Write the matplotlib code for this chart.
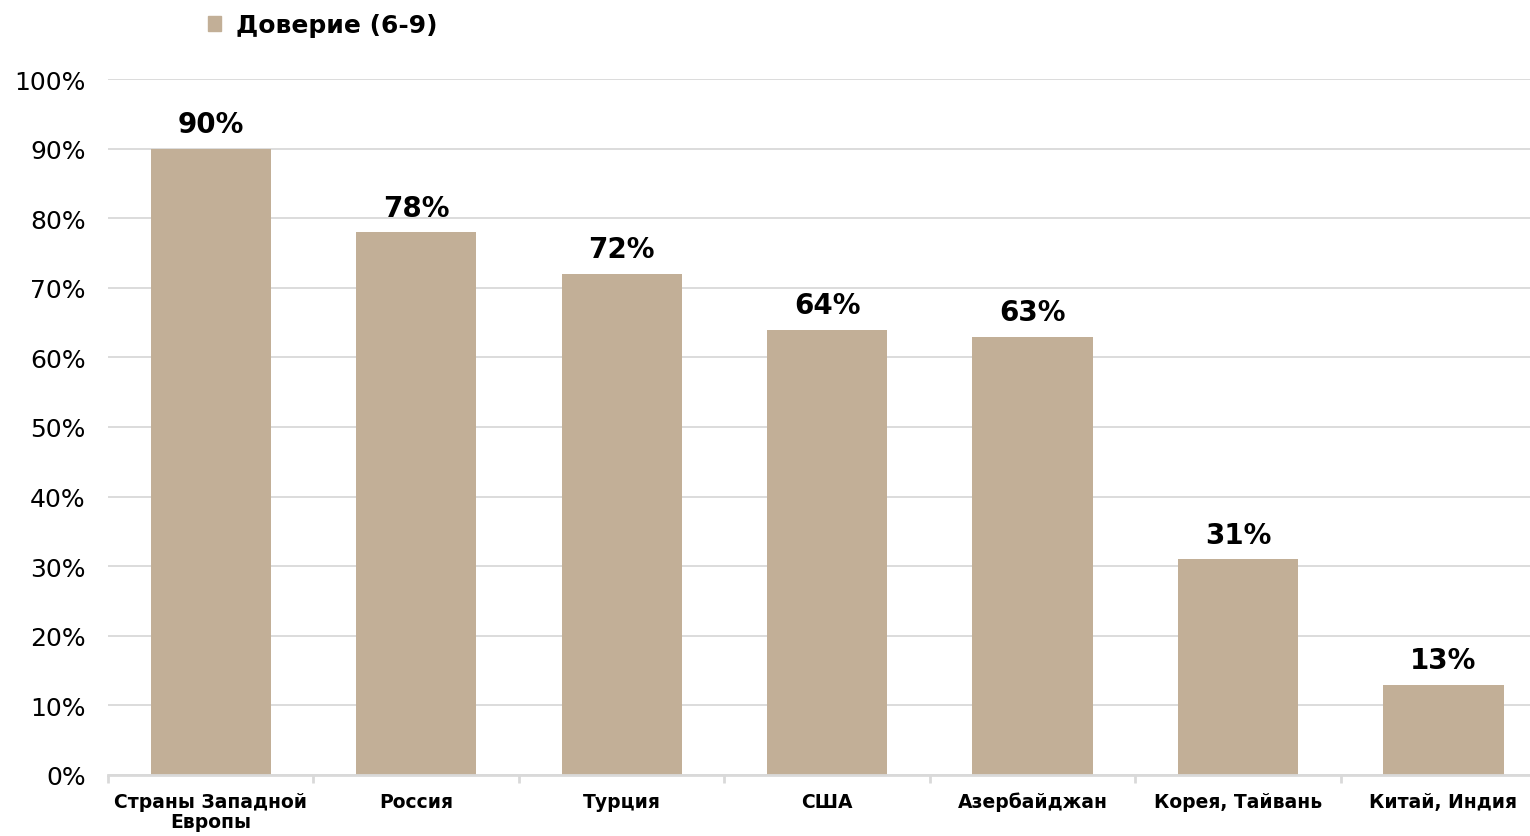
import numpy as np
from matplotlib import pyplot as plt
from matplotlib.ticker import PercentFormatter
from matplotlib.patches import Patch

countries = ["Страны Западной\nЕвропы", "Россия", "Турция", "США",
             "Азербайджан", "Корея, Тайвань", "Китай, Индия"]
trust = [90, 78, 72, 64, 63, 31, 13]
series_name = "Доверие (6-9)"

barColor = "#C2AF97"
gridColor = "#D9D9D9"

plt.rcParams["font.family"] = ["DejaVu Sans"]

fig = plt.figure(figsize=(15.3, 8.37), dpi=100)
# the plot area runs a little past the right edge of the figure
ax = fig.add_axes([0.0706, 0.0729, 0.940, 0.8315])

x = np.arange(len(countries))
bars = ax.bar(x, trust, width=0.585, color=barColor, zorder=2)

# value labels above each bar
for xi, v in zip(x, trust):
    ax.text(xi, v + 1.5, f"{v}%", ha="center", va="bottom",
            fontsize=20, fontweight="bold", color="black")

ax.set_xlim(-0.5, len(countries) - 0.5)
ax.set_ylim(0, 100)
ax.set_yticks(np.arange(0, 101, 10))
ax.yaxis.set_major_formatter(PercentFormatter(decimals=0))
ax.yaxis.grid(True, color=gridColor, linewidth=1.3, zorder=0)
ax.set_axisbelow(True)

# category labels in the middle, small ticks on the boundaries
ax.set_xticks(x)
ax.set_xticklabels(countries, fontsize=13.5, fontweight="bold", linespacing=1.1)
ax.tick_params(axis="x", which="major", length=0, pad=12)
ax.set_xticks(np.arange(-0.5, len(countries), 1), minor=True)
ax.tick_params(axis="x", which="minor", length=6, width=2, color=gridColor,
               direction="out")
ax.tick_params(axis="y", length=0, labelsize=18, pad=16)

for side in ["top", "right", "left"]:
    ax.spines[side].set_visible(False)
ax.spines["bottom"].set_color(gridColor)
ax.spines["bottom"].set_linewidth(2)

leg = fig.legend(handles=[Patch(color=barColor)], labels=[series_name],
                 loc="upper left", bbox_to_anchor=(0.121, 1.01),
                 frameon=False, handlelength=0.55, handleheight=0.55,
                 handletextpad=0.6, prop={"size": 18, "weight": "bold"})

plt.savefig("out.png", dpi=100)
